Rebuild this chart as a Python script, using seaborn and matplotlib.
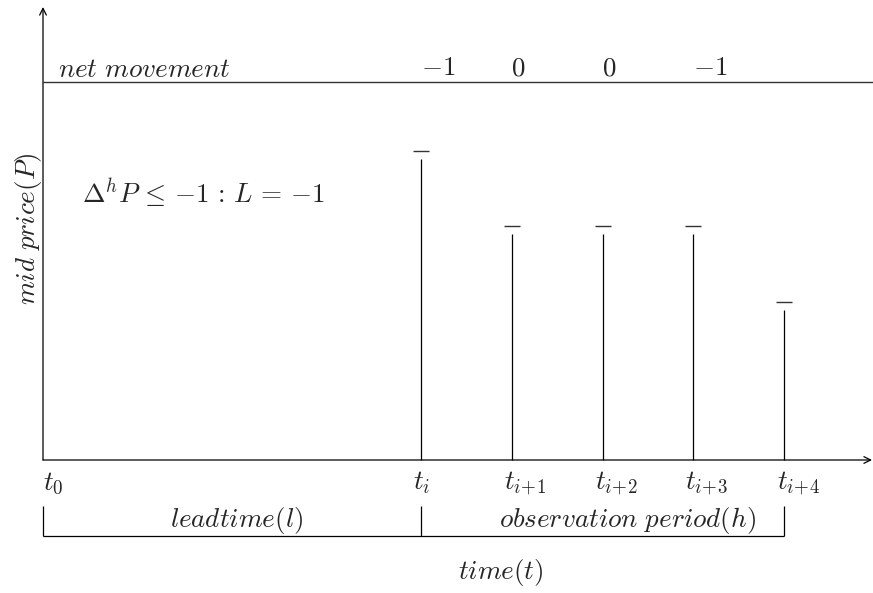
import matplotlib
matplotlib.use("Agg")
import matplotlib.pyplot as plt
import seaborn as sns
import pandas as pd

sns.set_theme(style="white")
plt.rcParams["mathtext.fontset"] = "cm"
plt.rcParams["font.family"] = ["DejaVu Serif"]

# ---- data ----
stem_times = [378, 469, 559.5, 650, 741]          # time positions of observations
price_levels = [309, 234, 234, 234, 158]          # mid price levels (dash marks)
net_movement = ["-1", "0", "0", "-1"]
net_label_x = [395, 475, 566, 667]
tick_labels = [r"$t_0$", r"$t_i$", r"$t_{i\!+\!1}$", r"$t_{i\!+\!2}$", r"$t_{i\!+\!3}$", r"$t_{i\!+\!4}$"]
tick_label_x = [0, 370, 461, 552, 642, 734]
period_bounds = [0, 378, 741]
period_labels = [r"$leadtime(l)$", r"$observation\ period(h)$"]

FS = 19.5
gap = 8

fig = plt.figure(figsize=(8.73, 5.93), dpi=100)
ax = fig.add_axes([0, 0, 1, 1])
ax.set_xlim(-43, 830)
ax.set_ylim(-133, 460)
ax.axis("off")

df = pd.DataFrame({"t": stem_times, "p": price_levels})

# axes with arrows
ax.annotate("", xy=(0, 453), xytext=(0, 0),
            arrowprops=dict(arrowstyle="->", lw=0.9, color="black", shrinkA=0, shrinkB=0))
ax.annotate("", xy=(829, 0), xytext=(0, 0),
            arrowprops=dict(arrowstyle="->", lw=0.9, color="black", shrinkA=0, shrinkB=0))

# net movement line
ax.hlines(378, 0, 830, color="#333333", lw=1.0)
ax.text(15, 383, r"$net\ movement$", fontsize=FS, ha="left", va="baseline")
for x, v in zip(net_label_x, net_movement):
    ax.text(x, 385, "$" + v + "$", fontsize=FS, ha="center", va="baseline")

# stems
ax.vlines(df["t"], 0, df["p"] - gap, color="black", lw=0.9)
sns.scatterplot(data=df, x="t", y="p", marker="_", s=120, color="#333333",
                linewidth=1.0, ax=ax, legend=False)

# annotation text
ax.text(39, 256, r"$\Delta^h P\,\leq\,{-}1\,:\,L\,=\,{-}1$", fontsize=FS, ha="left", va="baseline")
ax.text(-15, 231, r"$mid\ price(P)$", fontsize=FS, rotation=90, ha="center", va="center")

# tick labels
for x, lab in zip(tick_label_x, tick_labels):
    ax.text(x, -29, lab, fontsize=FS, ha="left", va="baseline")

# period brackets
ax.vlines(period_bounds, -76, -46, color="black", lw=0.9)
ax.hlines(-76, period_bounds[0], period_bounds[-1], color="black", lw=0.9)
for (a, b), lab in zip(zip(period_bounds[:-1], period_bounds[1:]), period_labels):
    ax.text((a + b) / 2 + (4 if a == 0 else 25), -61, lab, fontsize=FS, ha="center", va="center")

ax.text(458, -113, r"$time(t)$", fontsize=FS, ha="center", va="center")

fig.savefig("out.png", dpi=100)
